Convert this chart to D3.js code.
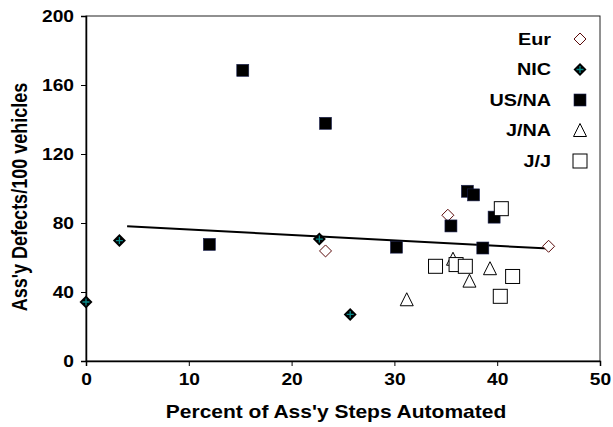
<!DOCTYPE html>
<html>
<head>
<meta charset="utf-8">
<script src="https://cdn.jsdelivr.net/npm/d3@7"></script>
<style>
  body { margin: 0; background: #fff; }
  svg text { font-family: "Liberation Sans", Arial, sans-serif; font-weight: bold; }
</style>
</head>
<body>
<div id="chart"></div>
<script>
// series data: x = percent of assembly steps automated, y = defects per 100 vehicles
const eurX = [23.3, 35.2, 45.0]
const eurY = [63.8, 84.5, 66.5]
const nicX = [0, 3.25, 22.7, 25.7]
const nicY = [34.2, 69.8, 70.7, 27.0]
const usnaX = [12.0, 15.25, 23.3, 30.2, 35.5, 37.1, 37.7, 38.6, 39.7]
const usnaY = [67.6, 168.5, 137.8, 66.0, 78.3, 98.4, 96.3, 65.5, 83.4]
const jnaX = [31.2, 35.7, 37.3, 39.3]
const jnaY = [35.5, 59.0, 46.3, 53.5]
const jjX = [34.0, 36.0, 36.9, 40.4, 40.3, 41.5]
const jjY = [54.9, 55.9, 54.9, 88.3, 37.5, 49.0]
const trendX = [4, 45]
const trendY = [78.1, 65.2]
const seriesNames = ["Eur", "NIC", "US/NA", "J/NA", "J/J"]
const xTicks = [0, 10, 20, 30, 40, 50]
const yTicks = [0, 40, 80, 120, 160, 200]

const width = 613
const height = 427
const marginLeft = 86
const marginRight = 13
const marginTop = 16
const marginBottom = 66
const stretch = 1.2   // text in the picture is a bit wide

const svg = d3.select("#chart").append("svg")
    .attr("width", width)
    .attr("height", height)

const x = d3.scaleLinear([0, 50], [marginLeft, width - marginRight])
const y = d3.scaleLinear([0, 200], [height - marginBottom, marginTop])

// plot frame (top/right)
svg.append("rect")
    .attr("x", marginLeft).attr("y", marginTop)
    .attr("width", x(50) - marginLeft).attr("height", y(0) - marginTop)
    .attr("fill", "none").attr("stroke", "#222").attr("stroke-width", 1)

svg.append("g")
    .attr("transform", `translate(0,${y(0)})`)
    .call(d3.axisBottom(x).tickValues(xTicks).tickSizeOuter(0).tickSize(5).tickPadding(8))
    .call(g => g.select(".domain").attr("stroke", "#000").attr("stroke-width", 1.5))
    .call(g => g.selectAll("text").attr("font-size", 16).attr("fill", "#000")
        .attr("transform", `scale(${stretch},1)`))

svg.append("g")
    .attr("transform", `translate(${marginLeft},0)`)
    .call(d3.axisLeft(y).tickValues(yTicks).tickSizeOuter(0).tickSize(5).tickPadding(5))
    .call(g => g.select(".domain").attr("stroke", "#000").attr("stroke-width", 1.5))
    .call(g => g.selectAll("text").attr("font-size", 16).attr("fill", "#000")
        .attr("transform", `scale(${stretch},1)`))

svg.append("text")
    .attr("transform", `translate(336,418) scale(${stretch},1)`)
    .attr("text-anchor", "middle")
    .attr("font-size", 17.5)
    .text("Percent of Ass'y Steps Automated")

svg.append("text")
    .attr("transform", `translate(27,197) scale(${stretch},1) rotate(-90)`)
    .attr("text-anchor", "middle")
    .attr("font-size", 18)
    .text("Ass'y Defects/100 vehicles")

// trend line
svg.append("line")
    .attr("x1", x(trendX[0])).attr("y1", y(trendY[0]))
    .attr("x2", x(trendX[1])).attr("y2", y(trendY[1]))
    .attr("stroke", "#000").attr("stroke-width", 2)

// marker drawers
const markers = {
    "Eur": (g, cx, cy) => g.append("path")
        .attr("d", `M${cx},${cy - 6}L${cx + 6},${cy}L${cx},${cy + 6}L${cx - 6},${cy}Z`)
        .attr("fill", "#fff").attr("stroke", "#5a0a0a").attr("stroke-width", 1),
    "NIC": (g, cx, cy) => {
        g.append("path")
            .attr("d", `M${cx},${cy - 6.5}L${cx + 6.5},${cy}L${cx},${cy + 6.5}L${cx - 6.5},${cy}Z`)
            .attr("fill", "#000")
        g.append("path")
            .attr("d", `M${cx - 3.5},${cy}H${cx + 3.5}M${cx},${cy - 3.5}V${cy + 3.5}`)
            .attr("stroke", "#0a8a8a").attr("stroke-width", 1.3)
    },
    "US/NA": (g, cx, cy) => g.append("rect")
        .attr("x", cx - 6).attr("y", cy - 6).attr("width", 12).attr("height", 12)
        .attr("fill", "#000").attr("stroke", "#1a2050").attr("stroke-width", 0.6),
    "J/NA": (g, cx, cy) => g.append("path")
        .attr("d", `M${cx},${cy - 7}L${cx + 6.5},${cy + 6}L${cx - 6.5},${cy + 6}Z`)
        .attr("fill", "#fff").attr("stroke", "#000").attr("stroke-width", 1),
    "J/J": (g, cx, cy) => g.append("rect")
        .attr("x", cx - 7).attr("y", cy - 7).attr("width", 14).attr("height", 14)
        .attr("fill", "#fff").attr("stroke", "#000").attr("stroke-width", 1)
}

const seriesData = [
    ["Eur", eurX, eurY],
    ["NIC", nicX, nicY],
    ["US/NA", usnaX, usnaY],
    ["J/NA", jnaX, jnaY],
    ["J/J", jjX, jjY]
]

const pts = svg.append("g")
seriesData.forEach(([name, xs, ys]) => {
    xs.forEach((v, i) => markers[name](pts, x(v), y(ys[i])))
})

// legend
const legend = svg.append("g")
seriesNames.forEach((name, i) => {
    const ly = 39 + i * 30.5
    legend.append("text")
        .attr("transform", `translate(551,${ly}) scale(${stretch},1)`)
        .attr("dy", "0.35em")
        .attr("text-anchor", "end")
        .attr("font-size", 16.5)
        .text(name)
    markers[name](legend, 580, ly)
})
</script>
</body>
</html>
